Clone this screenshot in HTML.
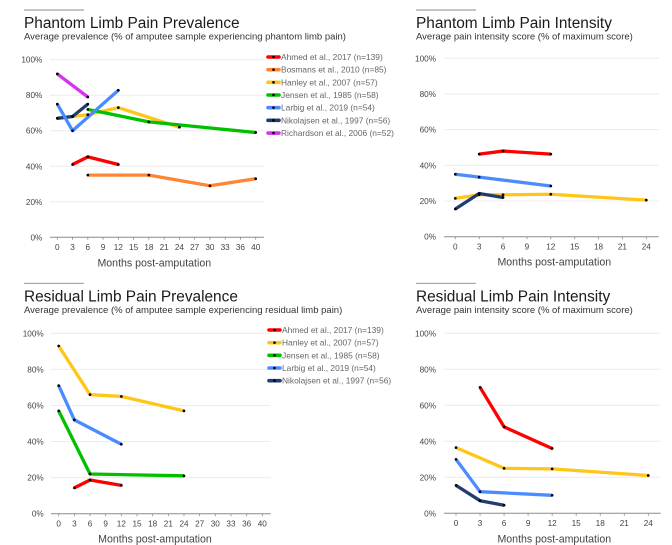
<!DOCTYPE html>
<html lang="en">
<head>
<meta charset="utf-8">
<title>Limb Pain Charts</title>
<style>
html,body{margin:0;padding:0;background:#fff;}
svg{display:block;font-family:"Liberation Sans",Arial,sans-serif;}
.title{font-size:15.4px;fill:#1a1a1a;}
.sub{font-size:9.5px;fill:#333;}
.tick{font-size:8.2px;fill:#444;}
.axt{font-size:10.6px;fill:#444;}
.leg{font-size:8.4px;fill:#666;}
</style>
</head>
<body>
<svg id="root" width="672" height="545" viewBox="0 0 672 545" xmlns="http://www.w3.org/2000/svg"></svg>
<script>
// ---- shared tick labels ----
const yTicks = [0, 20, 40, 60, 80, 100];
const xTicksLong = [0, 3, 6, 9, 12, 15, 18, 21, 24, 27, 30, 33, 36, 40];
const xTicksShort = [0, 3, 6, 9, 12, 15, 18, 21, 24];

// ---- series colours and names ----
const studyNames = {
  ahmed: 'Ahmed et al., 2017 (n=139)',
  bosmans: 'Bosmans et al., 2010 (n=85)',
  hanley: 'Hanley et al., 2007 (n=57)',
  jensen: 'Jensen et al., 1985 (n=58)',
  larbig: 'Larbig et al., 2019 (n=54)',
  nikolajsen: 'Nikolajsen et al., 1997 (n=56)',
  richardson: 'Richardson et al., 2006 (n=52)'
};
const studyColors = {
  ahmed: '#ff0000',
  bosmans: '#ff8533',
  hanley: '#ffc61a',
  jensen: '#00c000',
  larbig: '#4a8cff',
  nikolajsen: '#1f3d73',
  richardson: '#d633f0'
};

// ---- Phantom Limb Pain Prevalence ----
const ppAhmedMonths = [3, 6, 12];
const ppAhmedValues = [41, 45.3, 41];
const ppBosmansMonths = [6, 18, 30, 40];
const ppBosmansValues = [35, 35, 29, 33];
const ppHanleyMonths = [0, 3, 6, 12, 24];
const ppHanleyValues = [67, 68, 69, 73, 62];
const ppJensenMonths = [6, 18, 40];
const ppJensenValues = [72, 65, 59];
const ppLarbigMonths = [0, 3, 12];
const ppLarbigValues = [75, 60, 82.8];
const ppNikolajsenMonths = [0, 3, 6];
const ppNikolajsenValues = [67, 68, 75];
const ppRichardsonMonths = [0, 6];
const ppRichardsonValues = [92, 79];

// ---- Phantom Limb Pain Intensity ----
const piAhmedMonths = [3, 6, 12];
const piAhmedValues = [46.3, 48, 46.3];
const piHanleyMonths = [0, 3, 6, 12, 24];
const piHanleyValues = [21.5, 23.5, 23.5, 23.8, 20.5];
const piLarbigMonths = [0, 3, 12];
const piLarbigValues = [35, 33.4, 28.4];
const piNikolajsenMonths = [0, 3, 6];
const piNikolajsenValues = [15.5, 24.2, 22];

// ---- Residual Limb Pain Prevalence ----
const rpAhmedMonths = [3, 6, 12];
const rpAhmedValues = [14.3, 18.7, 15.7];
const rpHanleyMonths = [0, 6, 12, 24];
const rpHanleyValues = [93, 66, 65, 57];
const rpJensenMonths = [0, 6, 24];
const rpJensenValues = [57, 22, 21];
const rpLarbigMonths = [0, 3, 12];
const rpLarbigValues = [71, 52, 38.5];

// ---- Residual Limb Pain Intensity ----
const riAhmedMonths = [3, 6, 12];
const riAhmedValues = [70, 48, 36];
const riHanleyMonths = [0, 6, 12, 24];
const riHanleyValues = [36.5, 25, 24.7, 21];
const riLarbigMonths = [0, 3, 12];
const riLarbigValues = [30, 12, 10];
const riNikolajsenMonths = [0, 3, 6];
const riNikolajsenValues = [15.5, 7, 4.5];

const NS = 'http://www.w3.org/2000/svg';
const root = document.getElementById('root');

function make(parent, tag, attrs, text) {
  const el = document.createElementNS(NS, tag);
  for (const k in attrs) el.setAttribute(k, attrs[k]);
  if (text !== undefined) el.textContent = text;
  parent.appendChild(el);
  return el;
}

function drawChart(cfg) {
  const g = make(root, 'g', {});
  
  

  // x axis function: ticks are evenly spaced categories, interpolated between tick labels
  const step = (cfg.x1 - cfg.x0) / (cfg.ticks.length - 1);
  const xScale = function (m) {
    for (let i = 0; i < cfg.ticks.length - 1; i++) {
      if (m <= cfg.ticks[i + 1]) {
        const f = (m - cfg.ticks[i]) / (cfg.ticks[i + 1] - cfg.ticks[i]);
        return cfg.x0 + (i + f) * step;
      }
    }
    return cfg.x1;
  };
  const yScale = function (v) {
    return cfg.y0 + (cfg.y100 - cfg.y0) * v / 100;
  };

  const rule = make(g, 'line', {x1: cfg.left, x2: cfg.left + 60, y1: cfg.ruleY, y2: cfg.ruleY, stroke: '#8a8a8a', 'stroke-width': 0.9});
  
  

  const title = make(g, 'text', {x: cfg.left, y: cfg.ruleY + 18, class: 'title'}, cfg.title);
  
  

  const sub = make(g, 'text', {x: cfg.left, y: cfg.ruleY + 29.6, class: 'sub'}, cfg.subtitle);
  
  

  yTicks.forEach(function (t) {
    const yy = yScale(t);
    if (t > 0) {
      const grid = make(g, 'line', {x1: cfg.ax0, x2: cfg.ax1, y1: yy, y2: yy, stroke: '#ececec', 'stroke-width': 1});
      
      
    }
    const lab = make(g, 'text', {x: cfg.yLabelX, y: yy + 3, class: 'tick', 'text-anchor': 'end'}, t + '%');
    
    
  });

  const axis = make(g, 'line', {x1: cfg.ax0, x2: cfg.ax1, y1: cfg.y0, y2: cfg.y0, stroke: '#8c8c8c', 'stroke-width': 1});
  
  

  cfg.ticks.forEach(function (t) {
    const xx = xScale(t);
    const mark = make(g, 'line', {x1: xx, x2: xx, y1: cfg.y0, y2: cfg.y0 + 2.5, stroke: '#8c8c8c', 'stroke-width': 0.8});
    
    
    const lab = make(g, 'text', {x: xx, y: cfg.y0 + 12.7, class: 'tick', 'text-anchor': 'middle'}, String(t));
    
    
  });

  const axt = make(g, 'text', {x: cfg.axisTitleX, y: cfg.y0 + 29, class: 'axt', 'text-anchor': 'middle'}, 'Months post-amputation');
  
  

  cfg.series.forEach(function (s) {
    const color = studyColors[s.id];
    const pts = s.months.map(function (m, i) {
      return xScale(m).toFixed(2) + ',' + yScale(s.values[i]).toFixed(2);
    }).join(' ');
    const line = make(g, 'polyline', {points: pts, fill: 'none', stroke: color, 'stroke-width': 3.3, 'stroke-linejoin': 'round'});
    
    
  });
  cfg.series.forEach(function (s) {
    s.months.forEach(function (m, i) {
      const dot = make(g, 'circle', {cx: xScale(m), cy: yScale(s.values[i]), r: 1.35, fill: '#000'});
      
      
    });
  });

  if (cfg.legendX !== undefined) {
    cfg.legend.forEach(function (id, i) {
      const ly = cfg.legendY + i * 12.67;
      const key = make(g, 'line', {x1: cfg.legendX, x2: cfg.legendX + 11, y1: ly, y2: ly, stroke: studyColors[id], 'stroke-width': 3.6, 'stroke-linecap': 'round'});
      
      
      const kd = make(g, 'circle', {cx: cfg.legendX + 5.5, cy: ly, r: 1.3, fill: '#000'});
      
      
      const lt = make(g, 'text', {x: cfg.legendX + 13, y: ly + 3, class: 'leg'}, studyNames[id]);
      
      
    });
  }
}

drawChart({
  key: 'phantom-prevalence',
  title: 'Phantom Limb Pain Prevalence',
  subtitle: 'Average prevalence (% of amputee sample experiencing phantom limb pain)',
  left: 24, ruleY: 10,
  ticks: xTicksLong,
  x0: 57.3, x1: 255.7, y0: 237.3, y100: 59.7,
  ax0: 50, ax1: 264, yLabelX: 42.3, axisTitleX: 154.3,
  legendX: 268, legendY: 57,
  legend: ['ahmed', 'bosmans', 'hanley', 'jensen', 'larbig', 'nikolajsen', 'richardson'],
  series: [
    {id: 'ahmed', months: ppAhmedMonths, values: ppAhmedValues},
    {id: 'bosmans', months: ppBosmansMonths, values: ppBosmansValues},
    {id: 'hanley', months: ppHanleyMonths, values: ppHanleyValues},
    {id: 'jensen', months: ppJensenMonths, values: ppJensenValues},
    {id: 'nikolajsen', months: ppNikolajsenMonths, values: ppNikolajsenValues},
    {id: 'larbig', months: ppLarbigMonths, values: ppLarbigValues},
    {id: 'richardson', months: ppRichardsonMonths, values: ppRichardsonValues}
  ]
});

drawChart({
  key: 'phantom-intensity',
  title: 'Phantom Limb Pain Intensity',
  subtitle: 'Average pain intensity score (% of maximum score)',
  left: 416, ruleY: 10,
  ticks: xTicksShort,
  x0: 455.3, x1: 646.3, y0: 236.7, y100: 58.3,
  ax0: 444, ax1: 658.7, yLabelX: 436, axisTitleX: 554.3,
  series: [
    {id: 'ahmed', months: piAhmedMonths, values: piAhmedValues},
    {id: 'hanley', months: piHanleyMonths, values: piHanleyValues},
    {id: 'larbig', months: piLarbigMonths, values: piLarbigValues},
    {id: 'nikolajsen', months: piNikolajsenMonths, values: piNikolajsenValues}
  ]
});

drawChart({
  key: 'residual-prevalence',
  title: 'Residual Limb Pain Prevalence',
  subtitle: 'Average prevalence (% of amputee sample experiencing residual limb pain)',
  left: 24, ruleY: 283.3,
  ticks: xTicksLong,
  x0: 58.7, x1: 262.3, y0: 513.7, y100: 333.3,
  ax0: 51, ax1: 270.7, yLabelX: 43.7, axisTitleX: 155,
  legendX: 269, legendY: 330,
  legend: ['ahmed', 'hanley', 'jensen', 'larbig', 'nikolajsen'],
  series: [
    {id: 'ahmed', months: rpAhmedMonths, values: rpAhmedValues},
    {id: 'hanley', months: rpHanleyMonths, values: rpHanleyValues},
    {id: 'jensen', months: rpJensenMonths, values: rpJensenValues},
    {id: 'larbig', months: rpLarbigMonths, values: rpLarbigValues}
  ]
});

drawChart({
  key: 'residual-intensity',
  title: 'Residual Limb Pain Intensity',
  subtitle: 'Average pain intensity score (% of maximum score)',
  left: 416, ruleY: 283.3,
  ticks: xTicksShort,
  x0: 456, x1: 648.3, y0: 513.3, y100: 333.3,
  ax0: 444, ax1: 660.7, yLabelX: 436, axisTitleX: 554.3,
  series: [
    {id: 'ahmed', months: riAhmedMonths, values: riAhmedValues},
    {id: 'hanley', months: riHanleyMonths, values: riHanleyValues},
    {id: 'larbig', months: riLarbigMonths, values: riLarbigValues},
    {id: 'nikolajsen', months: riNikolajsenMonths, values: riNikolajsenValues}
  ]
});
</script>
</body>
</html>
